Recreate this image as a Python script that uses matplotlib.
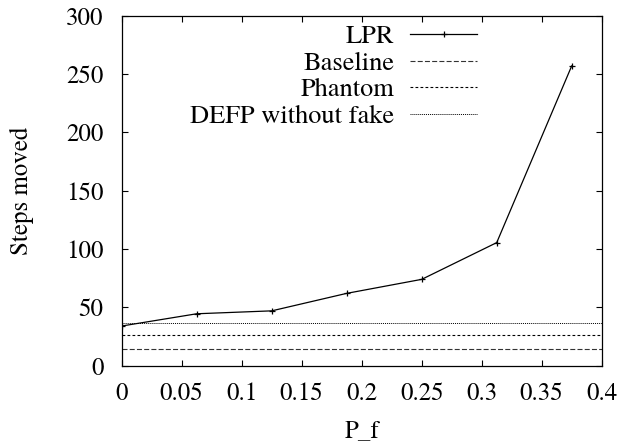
import matplotlib
matplotlib.use("Agg")
import matplotlib.pyplot as plt

# P_f values and steps moved
p_f = [0, 0.0625, 0.125, 0.1875, 0.25, 0.3125, 0.375]
lpr_steps = [34, 44.5, 47, 62, 74, 105.5, 257]

# constant reference levels
baseline_steps = 14
phantom_steps = 26
defp_steps = 37

x_ticks = [0, 0.05, 0.1, 0.15, 0.2, 0.25, 0.3, 0.35, 0.4]
x_tick_labels = ["0", "0.05", "0.1", "0.15", "0.2", "0.25", "0.3", "0.35", "0.4"]
y_ticks = [0, 50, 100, 150, 200, 250, 300]

plt.rcParams["font.family"] = ["TeX Gyre Termes", "Liberation Serif", "DejaVu Serif"]
plt.rcParams["font.size"] = 18

fig = plt.figure(figsize=(6.22, 4.44), dpi=100)
ax = fig.add_axes([0.1957, 0.1764, 0.7717, 0.7882])

ax.plot(p_f, lpr_steps, color="black", lw=0.9, marker="+", ms=5, mew=0.9, label="LPR")
ax.axhline(baseline_steps, color="#333333", lw=0.8, dashes=(4.5, 2), label="Baseline")
ax.axhline(phantom_steps, color="black", lw=0.8, dashes=(2.5, 2), label="Phantom")
ax.axhline(defp_steps, color="black", lw=0.7, dashes=(1, 1), label="DEFP without fake")

ax.set_xlim(0, 0.4)
ax.set_ylim(0, 300)
ax.set_xticks(x_ticks)
ax.set_xticklabels(x_tick_labels)
ax.set_yticks(y_ticks)
ax.tick_params(direction="in", length=4.5, width=0.8, top=True, right=True)
ax.tick_params(axis="x", pad=12)
ax.tick_params(axis="y", pad=13)
for s in ax.spines.values():
    s.set_linewidth(0.9)

ax.set_xlabel("P_f", labelpad=9)
ax.set_ylabel("Steps moved", labelpad=23)

ax.legend(loc="upper right", bbox_to_anchor=(0.741, 0.974), frameon=False,
          markerfirst=False, handlelength=2.55, handletextpad=0.6,
          labelspacing=0.08, borderpad=0, borderaxespad=0, fontsize=19)

fig.savefig("out.png", dpi=100)
